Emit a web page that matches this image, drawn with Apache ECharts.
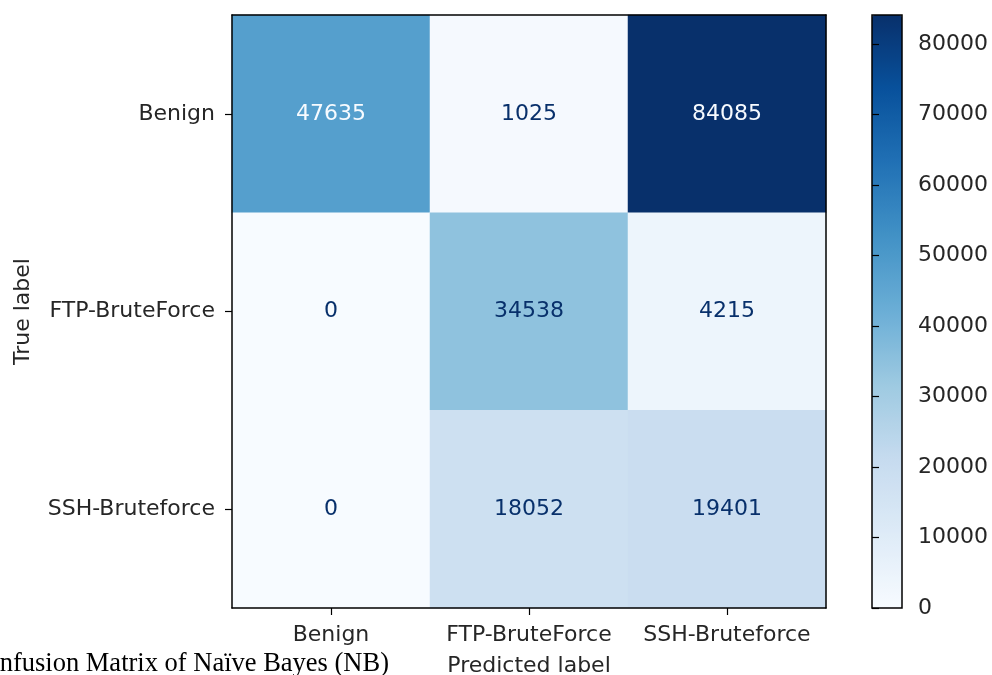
<!DOCTYPE html>
<html>
<head>
<meta charset="utf-8">
<script src="https://cdn.jsdelivr.net/npm/echarts@6/dist/echarts.min.js"></script>
<style>
  html, body { margin: 0; padding: 0; background: #fff; }
  #chart { width: 992px; height: 675px; }
</style>
</head>
<body>
<div id="chart"></div>
<script>
// Class labels (rows = true, columns = predicted)
const classes = ['Benign', 'FTP-BruteForce', 'SSH-Bruteforce'];

// Confusion matrix counts, one array per true class
const benignRow = [47635, 1025, 84085];
const ftpRow = [0, 34538, 4215];
const sshRow = [0, 18052, 19401];
const matrix = [benignRow, ftpRow, sshRow];

// Colorbar tick values
const colorbarTicks = [0, 10000, 20000, 30000, 40000, 50000, 60000, 70000, 80000];

// matplotlib "Blues" colormap stops
const blues = ['#f7fbff', '#deebf7', '#c6dbef', '#9ecae1', '#6baed6', '#4292c6', '#2171b5', '#08519c', '#08306b'];

const allVals = matrix.flat();
const vMin = Math.min(...allVals);
const vMax = Math.max(...allVals);
const threshold = (vMin + vMax) / 2;

const cells = [];
matrix.forEach((row, r) => {
  row.forEach((v, c) => {
    cells.push({
      value: [c, r, v],
      label: { color: v > threshold ? blues[0] : blues[8] }
    });
  });
});

const fontFamily = 'DejaVu Sans';
const fontSize = 22;
const textColor = '#262626';

const chart = echarts.init(document.getElementById('chart'), null, { renderer: 'canvas' });
chart.setOption({
  animation: false,
  backgroundColor: '#fff',
  textStyle: { fontFamily: fontFamily },
  grid: [
    { left: 232, top: 15, width: 594, height: 593, containLabel: false, outerBoundsMode: 'none' },
    {
      left: 872, top: 15, width: 30, height: 593, containLabel: false, outerBoundsMode: 'none',
      show: true, z: 10, backgroundColor: 'transparent', borderColor: '#000', borderWidth: 1.5
    }
  ],
  xAxis: [
    {
      type: 'category', gridIndex: 0, data: classes, position: 'bottom', z: 5,
      axisLine: { show: true, lineStyle: { color: '#000', width: 1.5 } },
      axisTick: { show: true, alignWithLabel: true, length: 7, lineStyle: { color: '#000', width: 1.2 } },
      axisLabel: { fontSize: fontSize, color: textColor, margin: 16, interval: 0, hideOverlap: false, fontFamily: fontFamily },
      splitLine: { show: false },
      name: 'Predicted label', nameLocation: 'middle', nameGap: 47,
      nameTextStyle: { fontSize: fontSize, color: textColor, fontFamily: fontFamily }
    },
    {
      type: 'category', gridIndex: 0, data: classes, position: 'top', z: 5,
      axisLine: { show: true, lineStyle: { color: '#000', width: 1.5 } },
      axisTick: { show: false }, axisLabel: { show: false }, splitLine: { show: false }
    },
    { type: 'value', gridIndex: 1, show: false, min: 0, max: 1 }
  ],
  yAxis: [
    {
      type: 'category', gridIndex: 0, data: classes, inverse: true, position: 'left', z: 5,
      axisLine: { show: true, lineStyle: { color: '#000', width: 1.5 } },
      axisTick: { show: true, alignWithLabel: true, length: 7, lineStyle: { color: '#000', width: 1.2 } },
      axisLabel: { fontSize: fontSize, color: textColor, margin: 17, interval: 0, fontFamily: fontFamily },
      splitLine: { show: false },
      name: 'True label', nameLocation: 'middle', nameGap: 198, nameRotate: 90,
      nameTextStyle: { fontSize: fontSize, color: textColor, fontFamily: fontFamily }
    },
    {
      type: 'category', gridIndex: 0, data: classes, inverse: true, position: 'right', z: 5,
      axisLine: { show: true, lineStyle: { color: '#000', width: 1.5 } },
      axisTick: { show: false }, axisLabel: { show: false }, splitLine: { show: false }
    },
    {
      type: 'value', gridIndex: 1, min: vMin, max: vMax, position: 'right', z: 5,
      axisLine: { show: false },
      axisTick: { show: true, length: 7, customValues: colorbarTicks, lineStyle: { color: '#000', width: 1.2 } },
      axisLabel: {
        fontSize: fontSize, color: textColor, margin: 16, customValues: colorbarTicks, fontFamily: fontFamily,
        formatter: v => String(v)
      },
      splitLine: { show: false }
    }
  ],
  visualMap: {
    type: 'continuous',
    seriesIndex: 0,
    min: vMin,
    max: vMax,
    left: 872,
    top: 15,
    itemWidth: 30,
    itemHeight: 593,
    padding: 0,
    calculable: false,
    showLabel: false,
    text: null,
    hoverLink: false,
    inRange: { color: blues }
  },
  series: [
    {
      type: 'heatmap',
      xAxisIndex: 0,
      yAxisIndex: 0,
      data: cells,
      label: {
        show: true,
        fontSize: fontSize,
        fontFamily: fontFamily,
        formatter: p => String(p.value[2])
      },
      itemStyle: { borderWidth: 0 },
      emphasis: { disabled: true }
    },
    {
      type: 'scatter', xAxisIndex: 2, yAxisIndex: 2, data: [], silent: true
    }
  ],
  graphic: [
    {
      type: 'text',
      right: 992 - 389,
      top: 651,
      style: {
        text: 'Confusion Matrix of Naïve Bayes (NB)',
        font: '26.5px "Liberation Serif", "Times New Roman", serif',
        fill: '#000',
        textAlign: 'right'
      }
    }
  ]
});
</script>
</body>
</html>
